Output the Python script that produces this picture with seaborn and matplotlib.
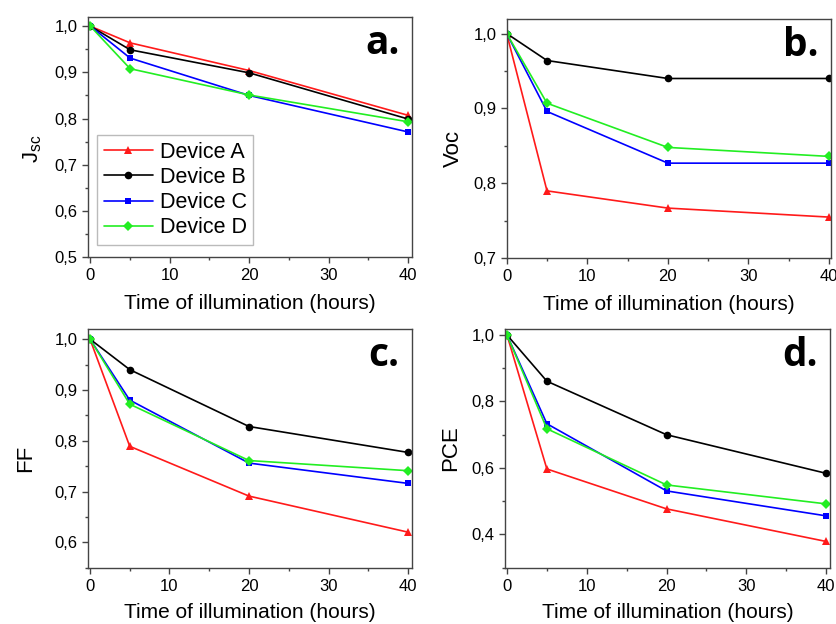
import matplotlib
matplotlib.use("Agg")
import matplotlib.pyplot as plt
import numpy as np
import pandas as pd
import seaborn as sns
from matplotlib.ticker import MultipleLocator, FuncFormatter

# ---------------- data ----------------
hours = [0, 5, 20, 40]
devices = ["Device A", "Device B", "Device C", "Device D"]

jsc_A = [1.0, 0.964, 0.904, 0.807]
jsc_B = [1.0, 0.949, 0.899, 0.799]
jsc_C = [1.0, 0.931, 0.850, 0.771]
jsc_D = [1.0, 0.908, 0.851, 0.793]

voc_A = [1.0, 0.790, 0.767, 0.755]
voc_B = [1.0, 0.964, 0.940, 0.940]
voc_C = [1.0, 0.896, 0.827, 0.827]
voc_D = [1.0, 0.907, 0.848, 0.836]

ff_A = [1.0, 0.789, 0.691, 0.620]
ff_B = [1.0, 0.940, 0.828, 0.777]
ff_C = [1.0, 0.880, 0.756, 0.716]
ff_D = [1.0, 0.872, 0.761, 0.741]

pce_A = [1.0, 0.597, 0.477, 0.379]
pce_B = [1.0, 0.861, 0.700, 0.584]
pce_C = [1.0, 0.733, 0.531, 0.456]
pce_D = [1.0, 0.718, 0.549, 0.492]

x_ticks = [0, 10, 20, 30, 40]
x_label = "Time of illumination (hours)"

metrics = {
    "Jsc": [jsc_A, jsc_B, jsc_C, jsc_D],
    "Voc": [voc_A, voc_B, voc_C, voc_D],
    "FF": [ff_A, ff_B, ff_C, ff_D],
    "PCE": [pce_A, pce_B, pce_C, pce_D],
}

rows = []
for m, series in metrics.items():
    for dev, vals in zip(devices, series):
        for h, v in zip(hours, vals):
            rows.append({"metric": m, "device": dev, "hours": h, "value": v})
df = pd.DataFrame(rows)

# ---------------- style ----------------
sns.set_style("ticks")
plt.rcParams["font.family"] = ["Liberation Sans", "DejaVu Sans"]
plt.rcParams["mathtext.fontset"] = "custom"
plt.rcParams["mathtext.rm"] = "Liberation Sans"
plt.rcParams["mathtext.it"] = "Liberation Sans"
plt.rcParams["text.color"] = "black"
plt.rcParams["axes.labelcolor"] = "black"
plt.rcParams["xtick.labelcolor"] = "black"
plt.rcParams["ytick.labelcolor"] = "black"

palette = {"Device A": "#ff1a1a", "Device B": "#000000",
           "Device C": "#0000ff", "Device D": "#22ee22"}
markers = {"Device A": "^", "Device B": "o", "Device C": "s", "Device D": "D"}
msizes = {"Device A": 6.0, "Device B": 5.5, "Device C": 5.0, "Device D": 4.8}

W, H = 837, 624
fig = plt.figure(figsize=(W / 100, H / 100), dpi=100)

def frac(l, r, t, b):
    return [l / W, 1 - b / H, (r - l) / W, (b - t) / H]

panels = [
    dict(m="Jsc", ylabel=r"J$_{\mathrm{sc}}$", pos=frac(88, 412, 17, 257),
         xlim=(-0.3, 40.5), ylim=(0.5, 1.02), major=0.1, minor=0.05,
         letter="a.", ylc=(-0.135, 0.45), xlc=-0.155),
    dict(m="Voc", ylabel="Voc", pos=frac(506.7, 830.7, 19.3, 258.3),
         xlim=(0.0, 40.2), ylim=(0.7, 1.019), major=0.1, minor=0.05,
         letter="b.", ylc=(-0.132, 0.46), xlc=-0.155),
    dict(m="FF", ylabel="FF", pos=frac(88, 412, 329, 567.7),
         xlim=(-0.25, 40.5), ylim=(0.55, 1.02), major=0.1, minor=0.05,
         letter="c.", ylc=(-0.159, 0.46), xlc=-0.147),
    dict(m="PCE", ylabel="PCE", pos=frac(505, 830, 329, 567.7),
         xlim=(-0.25, 40.5), ylim=(0.3, 1.018), major=0.2, minor=0.1,
         letter="d.", ylc=(-0.134, 0.5), xlc=-0.147),
]

comma = FuncFormatter(lambda v, p: f"{v:.1f}".replace(".", ","))
spine_col = "#444444"

for i, p in enumerate(panels):
    ax = fig.add_axes(p["pos"])
    sub = df[df["metric"] == p["m"]]
    for dev in devices:
        d = sub[sub["device"] == dev]
        sns.lineplot(data=d, x="hours", y="value", color=palette[dev],
                     marker=markers[dev], markersize=msizes[dev],
                     markeredgewidth=0, linewidth=1.2, ax=ax,
                     label=dev if i == 0 else None, legend=(i == 0))
    ax.set_xlim(*p["xlim"])
    ax.set_ylim(*p["ylim"])
    ax.set_xticks(x_ticks)
    ax.xaxis.set_minor_locator(MultipleLocator(5))
    ax.yaxis.set_major_locator(MultipleLocator(p["major"]))
    ax.yaxis.set_minor_locator(MultipleLocator(p["minor"]))
    ax.yaxis.set_major_formatter(comma)
    ax.tick_params(axis="both", which="major", direction="out", length=4,
                   width=1, color=spine_col, labelsize=12, labelcolor="black",
                   top=False, right=False)
    ax.tick_params(axis="both", which="minor", direction="out", length=2,
                   width=1, color=spine_col, top=False, right=False)
    ax.tick_params(axis="x", which="major", pad=4)
    ax.tick_params(axis="y", which="major", pad=3.5)
    for s in ax.spines.values():
        s.set_visible(True)
        s.set_color(spine_col)
        s.set_linewidth(1.0)
    ax.set_xlabel(x_label, fontsize=15, color="black")
    ax.set_ylabel(p["ylabel"], fontsize=16, color="black")
    ax.xaxis.set_label_coords(0.5, p["xlc"])
    ax.yaxis.set_label_coords(*p["ylc"])
    ax.text(0.962, 0.845, p["letter"], transform=ax.transAxes, ha="right",
            va="baseline", fontsize=28, fontweight="bold", family="Open Sans",
            color="black")
    if i == 0:
        handles, labels = ax.get_legend_handles_labels()
        leg = ax.legend(handles, labels, loc="upper left",
                        bbox_to_anchor=(0.028, 0.508), borderaxespad=0,
                        fontsize=15.5, frameon=True, fancybox=False,
                        edgecolor="#bbbbbb", framealpha=1, handlelength=2.3,
                        handletextpad=0.3, labelspacing=0.2, borderpad=0.3)
        for t in leg.get_texts():
            t.set_color("black")

fig.savefig("out.png", dpi=100)
